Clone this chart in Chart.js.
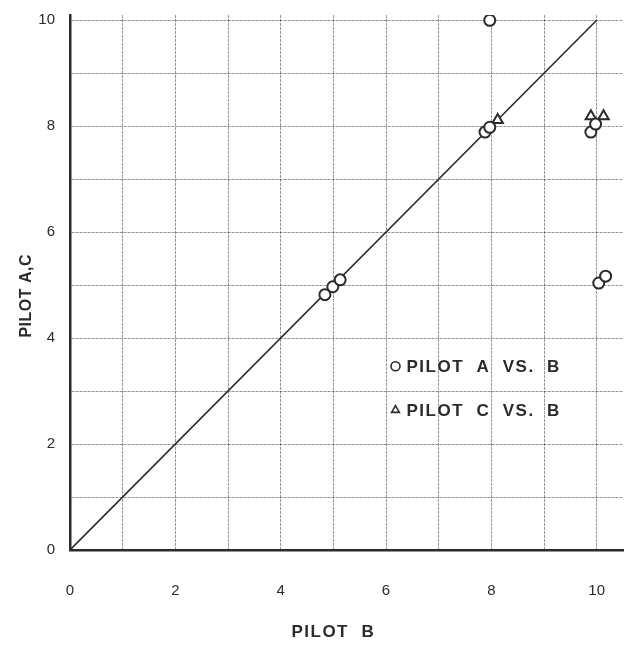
<!DOCTYPE html>
<html>
<head>
<meta charset="utf-8">
<script src="https://cdn.jsdelivr.net/npm/chart.js@4.4.1/dist/chart.umd.min.js"></script>
<style>
  html, body { margin: 0; padding: 0; background: #fff; }
</style>
</head>
<body>
<canvas id="chart" width="631" height="652"></canvas>
<script>
// ratings given by pilot B (x) against pilots A and C (y)
var pilotB_vsA = [7.97, 7.88, 7.97, 9.89, 9.98, 4.84, 4.99, 5.13, 10.04, 10.17];
var pilotA     = [10.0, 7.89, 7.98, 7.89, 8.04, 4.82, 4.97, 5.10, 5.04, 5.17];
var pilotB_vsC = [8.12, 9.89, 10.13];
var pilotC     = [8.12, 8.19, 8.19];

// line of perfect agreement
var agreeX = [0, 10];
var agreeY = [0, 10];

var tickValues = [0, 1, 2, 3, 4, 5, 6, 7, 8, 9, 10];
var legendLabels = ["PILOT  A  VS.  B", "PILOT  C  VS.  B"];
var xTitle = "PILOT  B";
var yTitle = "PILOT A,C";

var ink = "#2b2b2b";
var fontFamily = '"Liberation Sans", Arial, Helvetica, sans-serif';

function toPoints(xs, ys) {
    var pts = [];
    for (var i = 0; i < xs.length; i++) {
        pts.push({x: xs[i], y: ys[i]});
    }
    return pts;
}

function fixedTicks(scale) {
    scale.ticks = tickValues.map(function(v){ return {value: v}; });
}

function evenLabel(v) {
    return v % 2 === 0 ? String(v) : "";
}

// axis titles and the key, drawn over the plot
var textPlugin = {
    id: "textOverlay",
    afterDraw: function(chart) {
        var ctx = chart.ctx;
        var xs = chart.scales.x;
        var ys = chart.scales.y;

        ctx.save();
        ctx.fillStyle = ink;
        ctx.font = "bold 17px " + fontFamily;
        ctx.letterSpacing = "1.5px";
        ctx.textAlign = "center";
        ctx.textBaseline = "middle";
        ctx.fillText(xTitle, xs.getPixelForValue(5), 632);

        ctx.save();
        ctx.letterSpacing = "0.5px";
        ctx.font = "bold 16px " + fontFamily;
        ctx.translate(27, ys.getPixelForValue(4.8));
        ctx.rotate(-Math.PI / 2);
        ctx.fillText(yTitle, 0, 0);
        ctx.restore();

        // key
        var styles = ["circle", "triangle"];
        var keyY = [3.47, 2.64];
        var kx = xs.getPixelForValue(6.18);
        ctx.textAlign = "left";
        ctx.font = "bold 17px " + fontFamily;
        ctx.letterSpacing = "1.5px";
        for (var i = 0; i < legendLabels.length; i++) {
            var ky = ys.getPixelForValue(keyY[i]);
            ctx.strokeStyle = ink;
            ctx.fillStyle = "#fff";
            ctx.lineWidth = 1.6;
            Chart.helpers.drawPoint(ctx, {pointStyle: styles[i], radius: 4.5, borderWidth: 1.6, rotation: 0}, kx, ky);
            ctx.fillStyle = ink;
            ctx.fillText(legendLabels[i], kx + 11, ky + 1);
        }
        ctx.restore();
    }
};

var ctx = document.getElementById("chart").getContext("2d");
var chart = new Chart(ctx, {
    type: "scatter",
    data: {
        datasets: [
            {
                label: "Pilot A vs. B",
                data: toPoints(pilotB_vsA, pilotA),
                pointStyle: "circle",
                pointRadius: 5.5,
                pointBorderWidth: 2,
                pointBorderColor: ink,
                pointBackgroundColor: "#fff",
                order: 1
            },
            {
                label: "Pilot C vs. B",
                data: toPoints(pilotB_vsC, pilotC),
                pointStyle: "triangle",
                pointRadius: 6,
                pointBorderWidth: 2,
                pointBorderColor: ink,
                pointBackgroundColor: "#fff",
                order: 1
            },
            {
                label: "agreement",
                data: toPoints(agreeX, agreeY),
                showLine: true,
                borderColor: ink,
                borderWidth: 1.6,
                pointRadius: 0,
                order: 2
            }
        ]
    },
    options: {
        responsive: false,
        animation: false,
        layout: { padding: { top: 15, right: 6, left: 0, bottom: 0 } },
        plugins: {
            legend: { display: false },
            tooltip: { enabled: false }
        },
        scales: {
            x: {
                type: "linear",
                min: 0,
                max: 10.5,
                afterBuildTicks: fixedTicks,
                afterFit: function(s){
                    s.height = 102;
                    s.paddingLeft = 0;
                    s.paddingRight = 0;
                },
                // dotted graph-paper grid
                grid: { color: "rgba(0,0,0,0.42)", lineWidth: 1, drawTicks: false },
                border: { display: true, color: ink, width: 2.5, dash: [3, 1] },
                ticks: {
                    padding: 32,
                    maxRotation: 0,
                    autoSkip: false,
                    color: ink,
                    font: { family: fontFamily, size: 15 },
                    callback: evenLabel
                }
            },
            y: {
                type: "linear",
                min: 0,
                max: 10.1,
                afterBuildTicks: fixedTicks,
                afterFit: function(s){
                    s.width = 70;
                    s.paddingTop = 0;
                    s.paddingBottom = 0;
                },
                grid: { color: "rgba(0,0,0,0.42)", lineWidth: 1, drawTicks: false },
                border: { display: true, color: ink, width: 2.5, dash: [3, 1] },
                ticks: {
                    padding: 15,
                    autoSkip: false,
                    color: ink,
                    font: { family: fontFamily, size: 15 },
                    callback: evenLabel
                }
            }
        }
    },
    plugins: [textPlugin]
});
</script>
</body>
</html>
